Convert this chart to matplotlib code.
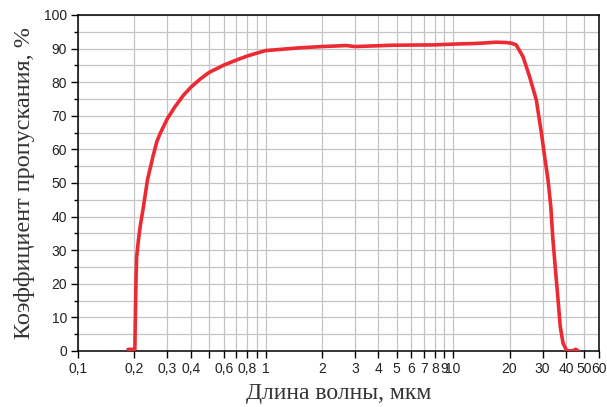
import matplotlib
matplotlib.use("Agg")
import matplotlib.pyplot as plt
from matplotlib.ticker import FixedLocator, MultipleLocator, NullFormatter

# Data
wavelength_um = [0.185, 0.198, 0.201, 0.202, 0.203, 0.204, 0.2055, 0.210, 0.2145, 0.2234,
                 0.2348, 0.2508, 0.2632, 0.2745, 0.30, 0.33, 0.366, 0.40, 0.45, 0.50,
                 0.60, 0.70, 0.80, 1.0, 1.5, 2.0, 2.7, 2.8, 3.0, 4.8, 7.9, 10.9, 12.9,
                 15.0, 17.0, 19.2, 20.5, 21.7, 23.6, 25.6, 27.8, 29.6, 30.8, 32.1,
                 33.2, 34.1, 35.3, 36.3, 37.3, 38.6, 40.4, 43.6, 45.1, 46.5]
transmission = [0.5, 0.5, 0.5, 8.0, 15.0, 22.0, 28.0, 33.0, 37.0, 43.0,
                51.0, 57.8, 62.3, 64.8, 69.2, 72.8, 76.2, 78.5, 81.0, 82.9,
                85.1, 86.6, 87.8, 89.4, 90.2, 90.6, 90.9, 90.8, 90.6, 91.0, 91.1, 91.4, 91.5,
                91.7, 91.9, 91.8, 91.6, 91.1, 87.6, 81.6, 74.7, 64.8, 57.8, 50.9,
                43.0, 33.0, 23.1, 15.2, 7.2, 2.3, 0.0, 0.1, 0.5, 0.0]

x_ticks = [0.1, 0.2, 0.3, 0.4, 0.5, 0.6, 0.7, 0.8, 0.9, 1, 2, 3, 4, 5, 6, 7, 8, 9, 10,
           20, 30, 40, 50, 60]
x_tick_labels = ["0,1", "0,2", "0,3", "0,4", "", "0,6", "", "0,8", "", "1", "2", "3", "4",
                 "5", "6", "7", "8", "9", "10", "20", "30", "40", "50", "60"]
y_ticks = [0, 10, 20, 30, 40, 50, 60, 70, 80, 90, 100]

fig = plt.figure(figsize=(6.07, 4.07), dpi=100)
ax = fig.add_axes([0.1285, 0.1376, 0.8583, 0.8256])

ax.set_xscale("log")
ax.set_xlim(0.1, 60)
ax.set_ylim(0, 100)

ax.set_xticks(x_ticks)
ax.set_xticklabels(x_tick_labels)
ax.xaxis.set_minor_locator(FixedLocator([]))
ax.xaxis.set_minor_formatter(NullFormatter())
ax.set_yticks(y_ticks)
ax.yaxis.set_minor_locator(MultipleLocator(5))

ax.grid(True, which="major", axis="x", color="#c4c4c4", linewidth=0.9)
ax.grid(True, which="both", axis="y", color="#c4c4c4", linewidth=0.9)
ax.set_axisbelow(True)

ax.plot(wavelength_um, transmission, color="#ec2a33", linewidth=2.6,
        solid_capstyle="round", solid_joinstyle="round", zorder=3)

for s in ax.spines.values():
    s.set_linewidth(1.1)
    s.set_color("black")

ax.tick_params(axis="both", which="major", direction="out", length=5, width=1.0,
               labelsize=10, colors="black", pad=3)
ax.tick_params(axis="y", which="minor", direction="out", length=3, width=1.0)
for lab in ax.get_xticklabels() + ax.get_yticklabels():
    lab.set_fontfamily("Liberation Sans")
    lab.set_color("#222222")

ax.set_xlabel("Длина волны, мкм", fontfamily="Liberation Serif", fontsize=17,
              color="#333333", labelpad=5)
ax.set_ylabel("Коэффициент пропускания, %", fontfamily="Liberation Serif", fontsize=17.5,
              color="#333333", labelpad=6)

fig.savefig("out.png", dpi=100)
